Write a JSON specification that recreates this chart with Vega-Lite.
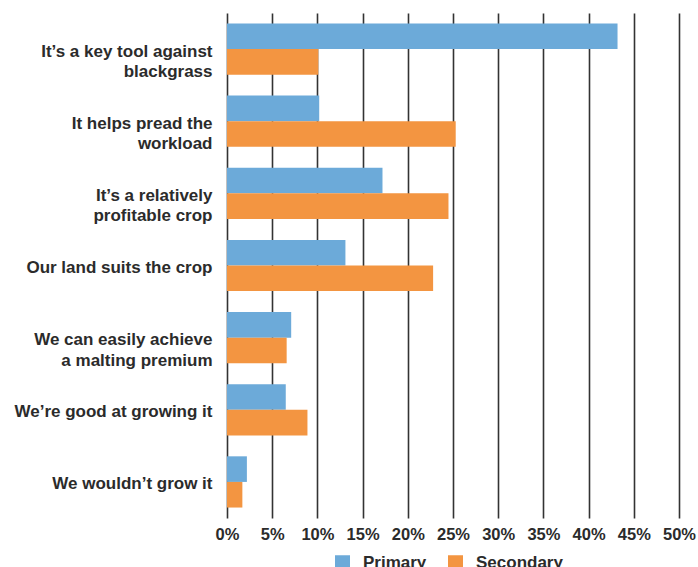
{
  "$schema": "https://vega.github.io/schema/vega-lite/v6.json",
  "width": 452,
  "height": 505,
  "autosize": {"type": "none"},
  "padding": {"left": 227, "top": 13, "right": 19, "bottom": 49},
  "background": "white",
  "config": {"view": {"stroke": null}, "font": "Liberation Sans"},
  "data": {
    "values": [
      {"reason": "It’s a key tool against|blackgrass", "series": "Primary", "pct": 43.2},
      {"reason": "It’s a key tool against|blackgrass", "series": "Secondary", "pct": 10.1},
      {"reason": "It helps pread the|workload", "series": "Primary", "pct": 10.2},
      {"reason": "It helps pread the|workload", "series": "Secondary", "pct": 25.3},
      {"reason": "It’s a relatively|profitable crop", "series": "Primary", "pct": 17.2},
      {"reason": "It’s a relatively|profitable crop", "series": "Secondary", "pct": 24.5},
      {"reason": "Our land suits the crop", "series": "Primary", "pct": 13.1},
      {"reason": "Our land suits the crop", "series": "Secondary", "pct": 22.8},
      {"reason": "We can easily achieve|a malting premium", "series": "Primary", "pct": 7.1},
      {"reason": "We can easily achieve|a malting premium", "series": "Secondary", "pct": 6.6},
      {"reason": "We’re good at growing it", "series": "Primary", "pct": 6.5},
      {"reason": "We’re good at growing it", "series": "Secondary", "pct": 8.9},
      {"reason": "We wouldn’t grow it", "series": "Primary", "pct": 2.2},
      {"reason": "We wouldn’t grow it", "series": "Secondary", "pct": 1.7}
    ]
  },
  "mark": {"type": "bar"},
  "encoding": {
    "y": {
      "field": "reason",
      "type": "nominal",
      "sort": null,
      "scale": {"paddingInner": 0.29, "paddingOuter": 0.145},
      "axis": {
        "title": null,
        "domain": false,
        "ticks": false,
        "grid": false,
        "labelExpr": "split(datum.label, '|')",
        "labelBaseline": "alphabetic",
        "labelOffset": 7.5,
        "labelPadding": 15,
        "labelFontSize": 17,
        "labelFontWeight": "bold",
        "labelColor": "#2b2b2b",
        "labelLineHeight": 20.5,
        "labelLimit": 300,
        "labelOverlap": false
      }
    },
    "x": {
      "field": "pct",
      "type": "quantitative",
      "scale": {"domain": [0, 50], "nice": false},
      "axis": {
        "title": null,
        "values": [0, 5, 10, 15, 20, 25, 30, 35, 40, 45, 50],
        "labelExpr": "datum.value + '%'",
        "grid": true,
        "gridColor": "#333333",
        "gridWidth": 1.6,
        "domain": false,
        "ticks": false,
        "labelPadding": 8,
        "labelFontSize": 16.5,
        "labelFontWeight": "bold",
        "labelColor": "#2b2b2b",
        "labelBaseline": "top",
        "labelOverlap": false,
        "labelFlush": false,
        "labelBound": false
      }
    },
    "yOffset": {"field": "series", "sort": ["Primary", "Secondary"]},
    "color": {
      "field": "series",
      "type": "nominal",
      "scale": {"domain": ["Primary", "Secondary"], "range": ["#6caad9", "#f39541"]},
      "legend": {
        "title": null,
        "orient": "none",
        "legendX": 107,
        "legendY": 541,
        "direction": "horizontal",
        "symbolType": "square",
        "symbolSize": 225,
        "symbolStrokeWidth": 0,
        "symbolOpacity": 1,
        "labelFontSize": 17,
        "labelFontWeight": "bold",
        "labelColor": "#2b2b2b",
        "labelOffset": 12,
        "columnPadding": 20
      }
    }
  }
}
